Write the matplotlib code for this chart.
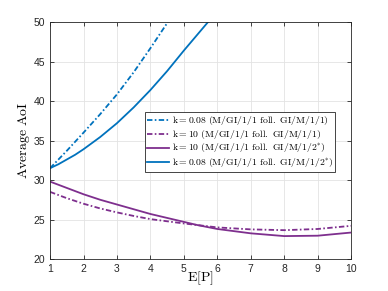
import matplotlib
matplotlib.use("Agg")
import matplotlib.pyplot as plt

plt.rcParams["mathtext.fontset"] = "cm"
plt.rcParams["font.family"] = ["Liberation Sans", "DejaVu Sans"]

# k=0.08, M/GI/1/1 foll. GI/M/1/1 (blue, dash-dot)
ep_blue_dd = [1.0, 1.25, 1.5, 1.75, 2.0, 2.5, 3.0, 3.5, 4.0, 4.52]
aoi_blue_dd = [31.5, 32.6, 33.7, 34.85, 36.0, 38.35, 40.85, 43.65, 46.7, 50.0]

# k=10, M/GI/1/1 foll. GI/M/1/1 (purple, dash-dot)
ep_purp = [1, 1.5, 2, 2.5, 3, 3.5, 4, 5, 5.4, 6, 7, 8, 9, 10]
aoi_purp_dd = [28.5, 27.7, 27.0, 26.4, 25.9, 25.45, 25.05, 24.5, 24.3, 24.0, 23.75,
               23.65, 23.8, 24.2]

# k=10, M/GI/1/1 foll. GI/M/1/2* (purple, solid)
aoi_purp_s = [29.8, 29.0, 28.2, 27.5, 26.9, 26.3, 25.7, 24.7, 24.3, 23.8, 23.25,
              22.9, 22.95, 23.35]

# k=0.08, M/GI/1/1 foll. GI/M/1/2* (blue, solid)
ep_blue_s = [1.0, 1.25, 1.5, 1.75, 2.0, 2.5, 3.0, 3.5, 4.0, 4.5, 5.0, 5.72]
aoi_blue_s = [31.5, 32.0, 32.6, 33.2, 33.9, 35.45, 37.2, 39.2, 41.4, 43.8, 46.4, 50.0]

labels = [
    r"$\mathrm{k{=}0.08\ (M/GI/1/1\ foll.\ GI/M/1/1)}$",
    r"$\mathrm{k{=}10\ (M/GI/1/1\ foll.\ GI/M/1/1)}$",
    r"$\mathrm{k{=}10\ (M/GI/1/1\ foll.\ GI/M/1/2^{*})}$",
    r"$\mathrm{k{=}0.08\ (M/GI/1/1\ foll.\ GI/M/1/2^{*})}$",
]

blue = "#0072BD"
purple = "#7E2F8E"
dd = (3.0, 1.3, 0.9, 1.3)

fig = plt.figure(figsize=(3.88, 2.91), dpi=100)
ax = fig.add_axes([0.129, 0.110, 0.776, 0.814])

lw = 1.3
ax.plot(ep_blue_dd, aoi_blue_dd, color=blue, dashes=dd, lw=lw, label=labels[0])
ax.plot(ep_purp, aoi_purp_dd, color=purple, dashes=dd, lw=lw, label=labels[1])
ax.plot(ep_purp, aoi_purp_s, color=purple, ls="-", lw=lw, label=labels[2])
ax.plot(ep_blue_s, aoi_blue_s, color=blue, ls="-", lw=lw, label=labels[3])

ax.set_xlim(1, 10)
ax.set_ylim(20, 50)
ax.set_xticks(range(1, 11))
ax.set_yticks(range(20, 51, 5))
ax.grid(True, color="#e3e3e3", lw=0.6)
ax.set_axisbelow(True)
ax.tick_params(direction="in", top=True, right=True, labelsize=7.5,
               colors="#262626", length=3, width=0.6)
for s in ax.spines.values():
    s.set_color("#262626")
    s.set_linewidth(0.6)

ax.set_xlabel(r"$\mathrm{E[P]}$", fontsize=10, labelpad=-3)
ax.set_ylabel(r"$\mathrm{Average\ AoI}$", fontsize=10, labelpad=1)

leg = ax.legend(loc="lower left", bbox_to_anchor=(0.315, 0.367), fontsize=7,
                frameon=True, fancybox=False, framealpha=1, edgecolor="#262626",
                handlelength=2.2, handletextpad=0.3, borderpad=0.25,
                labelspacing=0.1, borderaxespad=0)
leg.get_frame().set_linewidth(0.6)

fig.savefig("out.png", dpi=100)
